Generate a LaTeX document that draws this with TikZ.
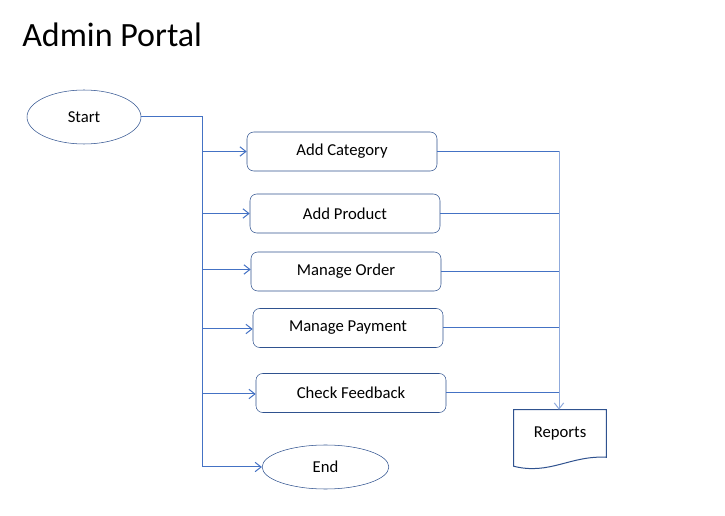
\documentclass[tikz,border=0pt]{standalone}
\usepackage{fontspec}
\setmainfont{Carlito}
\usetikzlibrary{arrows.meta,shapes.geometric}
\definecolor{boxline}{HTML}{2F528F}
\definecolor{wire}{HTML}{4472C4}
\definecolor{wirelight}{HTML}{8FAADC}
\begin{document}
\begin{tikzpicture}[x=0.75pt,y=-0.75pt,
		task/.style = {draw=boxline, rounded corners=5pt, minimum width=142.5pt, minimum height=29.25pt, font=\fontsize{12.5}{15}\selectfont},
		term/.style = {draw=boxline, ellipse, font=\fontsize{12.5}{15}\selectfont},
		wireline/.style = {draw=wire, line width=0.75pt},
		arr/.style = {draw=wire, line width=0.75pt, -{Straight Barb[length=4.5pt,width=7pt]}}]
	\useasboundingbox (0,0) rectangle (725,516);
	\node[anchor=base west, inner sep=0pt, font=\fontsize{25.5}{30}\selectfont] (title) at (22,47) {Admin Portal};
	\node[term, minimum width=85.5pt, minimum height=40.5pt] (start) at (84,117) {Start};
	\node[task] (cat) at (342,151.5) {Add Category};
	\node[task] (prod) at (345,213.5) {Add Product};
	\node[task] (order) at (346,271.5) {Manage Order};
	\node[task] (pay) at (348,328) {Manage Payment};
	\node[task] (feed) at (351,393) {Check Feedback};
	\node[term, minimum width=95pt, minimum height=33pt] (end) at (325.5,467) {End};
	\node[minimum width=69pt, minimum height=35.25pt, font=\fontsize{12.5}{15}\selectfont] (reports) at (560,433.5) {Reports};
	\draw[boxline, line width=0.75pt] ([yshift=-6.75pt]reports.south west) -- (reports.north west) -- (reports.north east) -- (reports.south east)
		.. controls +(-36,-2) and +(36,9) .. ([yshift=-6.75pt]reports.south west) -- cycle;
	\coordinate (trunk) at (202,117);
	\coordinate (bus) at (559,151.5);
	% left side
	\draw[wireline] (start.east) -- (trunk) -- (end.west -| trunk);
	\draw[arr] (cat.west -| trunk) -- (cat.west);
	\draw[arr] (prod.west -| trunk) -- (prod.west);
	\draw[arr] ([yshift=1.5pt]order.west -| trunk) -- ([yshift=1.5pt]order.west);
	\draw[arr] ([yshift=-0.75pt]pay.west -| trunk) -- ([yshift=-0.75pt]pay.west);
	\draw[arr] ([yshift=-0.75pt]feed.west -| trunk) -- ([yshift=-0.75pt]feed.west);
	\draw[arr] (end.west -| trunk) -- (end.west);
	% right side
	\draw[wireline] (cat.east) -- (bus);
	\draw[wireline] (prod.east) -- (prod.east -| bus);
	\draw[wireline] (order.east) -- (order.east -| bus);
	\draw[wireline] (pay.east) -- (pay.east -| bus);
	\draw[wireline] (feed.east) -- (feed.east -| bus);
	\draw[arr, draw=wirelight] (bus) -- (reports.north -| bus);
\end{tikzpicture}
\end{document}
